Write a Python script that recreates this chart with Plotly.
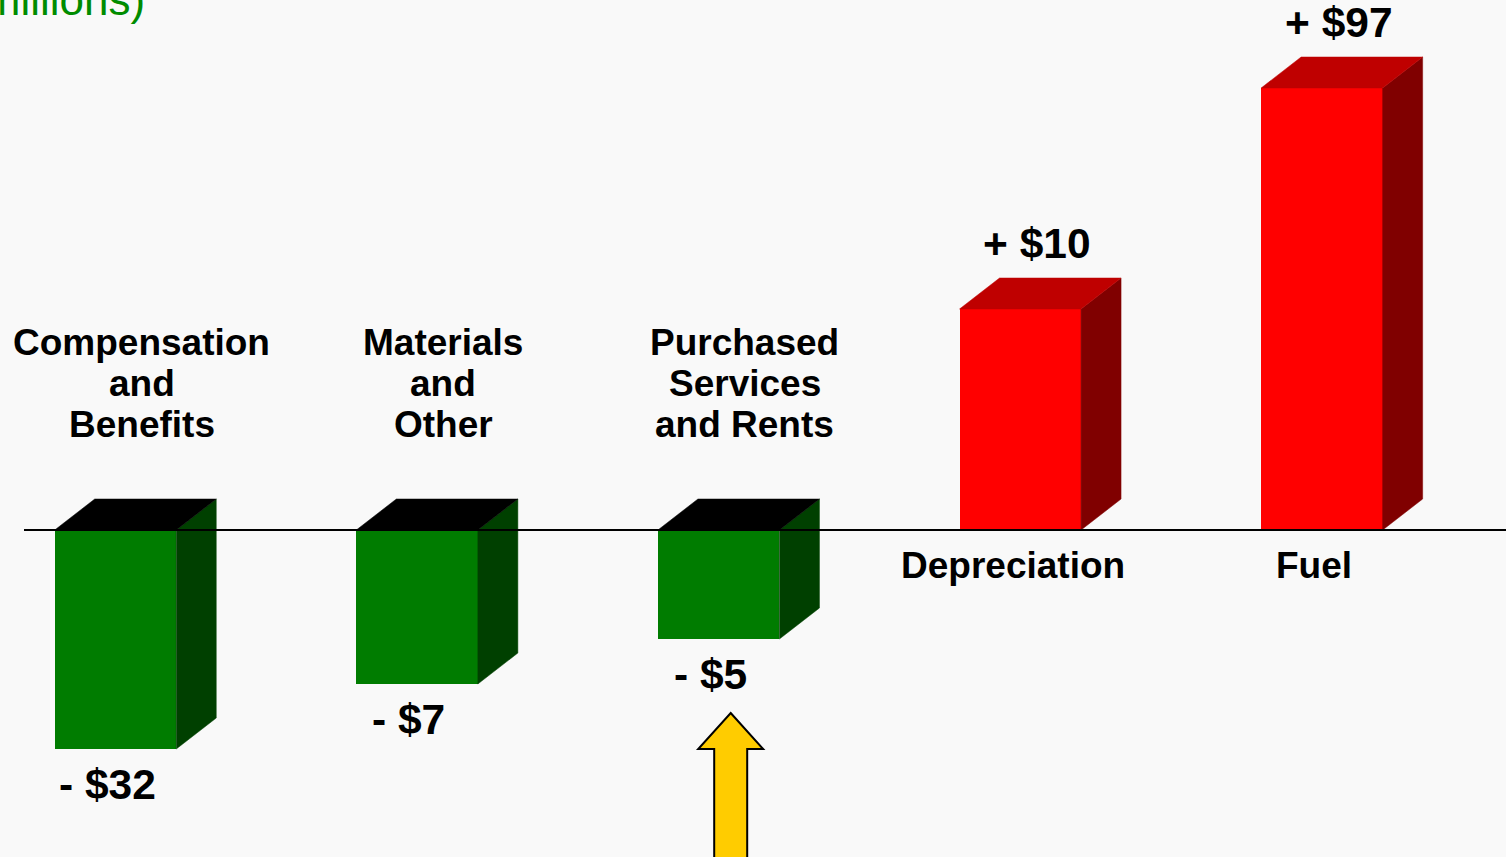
import plotly.graph_objects as go

# ---------------- data ----------------
categories = ["Compensation<br>and<br>Benefits",
              "Materials<br>and<br>Other",
              "Purchased<br>Services<br>and Rents",
              "Depreciation",
              "Fuel"]
values = [-32, -7, -5, 10, 97]              # change, $ millions (labels)
bar_heights = [-219, -154, -109, 221, 442]  # drawn bar heights (chart units, as pictured)
title_text = "($ in millions)"

# ---------------- geometry / style ----------------
W_PX, H_PX = 1506, 857
PX = 301.6          # pixels per category step
X0 = 115.5          # pixel of first category centre
ZERO_PX = 530       # pixel row of the zero line
BAR_W = 121.5 / PX  # front face width in data units
DX = 40 / PX        # depth offset (x)
DY = 31             # depth offset (y)

FONT = "Liberation Sans, Arial, Helvetica, sans-serif"
BG = "#f9f9f9"

pos_front, pos_side, pos_top = "#FF0000", "#800000", "#BF0000"
neg_front, neg_side, neg_top = "#007C00", "#004000", "#000000"


def xd(px):
    return (px - X0) / PX


def yd(py):
    return ZERO_PX - py


xs = list(range(len(categories)))
front_colors = [pos_front if v > 0 else neg_front for v in values]

fig = go.Figure()

# side and top faces (pseudo-3D), derived from the bar data
for i, h in zip(xs, bar_heights):
    xl, xr = i - BAR_W / 2, i + BAR_W / 2
    side_c = pos_side if h > 0 else neg_side
    top_c = pos_top if h > 0 else neg_top
    fig.add_trace(go.Scatter(
        x=[xr, xr + DX, xr + DX, xr, xr],
        y=[0, DY, h + DY, h, 0],
        mode="lines", fill="toself", fillcolor=side_c,
        line=dict(width=0.5, color=side_c), hoverinfo="skip", showlegend=False))
    ty = h if h > 0 else 0
    fig.add_trace(go.Scatter(
        x=[xl, xr, xr + DX, xl + DX, xl],
        y=[ty, ty, ty + DY, ty + DY, ty],
        mode="lines", fill="toself", fillcolor=top_c,
        line=dict(width=0.5, color=top_c), hoverinfo="skip", showlegend=False))

# front faces
fig.add_trace(go.Bar(
    x=xs, y=bar_heights, width=BAR_W,
    marker=dict(color=front_colors, line=dict(width=0)),
    hoverinfo="skip", showlegend=False))

annotations = []

# category labels
LINE_GAP = 41
CAT_SIZE = 37
VAL_SIZE = 42.5
for i, (cat, h) in enumerate(zip(categories, bar_heights)):
    lines = cat.split("<br>")
    if h < 0:
        first_y, xshift = yd(342), 26
    else:
        first_y, xshift = yd(565), -7.5
    for k, ln in enumerate(lines):
        annotations.append(dict(
            x=i, y=first_y - k * LINE_GAP, xref="x", yref="y", text=ln,
            showarrow=False, xanchor="center", yanchor="middle", xshift=xshift,
            font=dict(family=FONT, size=CAT_SIZE, color="#000000", weight="bold")))

# value labels
for i, (v, h) in enumerate(zip(values, bar_heights)):
    txt = ("+ $" if v > 0 else "- $") + str(abs(v))
    if h < 0:
        y, xshift = h - 35, -8.5
    else:
        y, xshift = h + DY + 35, 17
    annotations.append(dict(
        x=i, y=y, xref="x", yref="y", text=txt, showarrow=False,
        xanchor="center", yanchor="middle", xshift=xshift,
        font=dict(family=FONT, size=VAL_SIZE, color="#000000", weight="bold")))

# partially visible title at top-left (cut off by the top edge, as in the original)
annotations.append(dict(
    x=147 / W_PX, y=1 - 26 / H_PX, xref="paper", yref="paper", text=title_text,
    showarrow=False, xanchor="right", yanchor="bottom",
    font=dict(family=FONT, size=44, color="#008C00")))

shapes = []
# zero line
shapes.append(dict(type="line", xref="x", yref="y", x0=xd(24), x1=xd(W_PX + 5),
                   y0=0, y1=0, line=dict(color="#000000", width=2), layer="above"))

# yellow arrow pointing up at the Purchased Services bar
ai = 2
ah = bar_heights[ai]
cx = ai + 12 / PX
tip = ah - 74
head_base = tip - 36
head_hw = 32.5 / PX
shaft_hw = 16.5 / PX
bottom = yd(H_PX + 10)
path = (f"M {cx},{tip} L {cx + head_hw},{head_base} L {cx + shaft_hw},{head_base} "
        f"L {cx + shaft_hw},{bottom} L {cx - shaft_hw},{bottom} L {cx - shaft_hw},{head_base} "
        f"L {cx - head_hw},{head_base} Z")
shapes.append(dict(type="path", xref="x", yref="y", path=path,
                   fillcolor="#FFCC00", line=dict(color="#000000", width=2), layer="above"))

fig.update_layout(
    width=W_PX, height=H_PX,
    margin=dict(l=0, r=0, t=0, b=0),
    paper_bgcolor=BG, plot_bgcolor=BG,
    xaxis=dict(range=[xd(0), xd(W_PX)], visible=False, fixedrange=True),
    yaxis=dict(range=[yd(H_PX), yd(0)], visible=False, fixedrange=True),
    bargap=0,
    annotations=annotations,
    shapes=shapes,
    showlegend=False,
)

fig.write_html("out.html", config={"displayModeBar": False},
               post_script="document.body.style.margin='0';"
                           "document.body.style.overflow='hidden';"
                           "document.body.style.background='" + BG + "';")
